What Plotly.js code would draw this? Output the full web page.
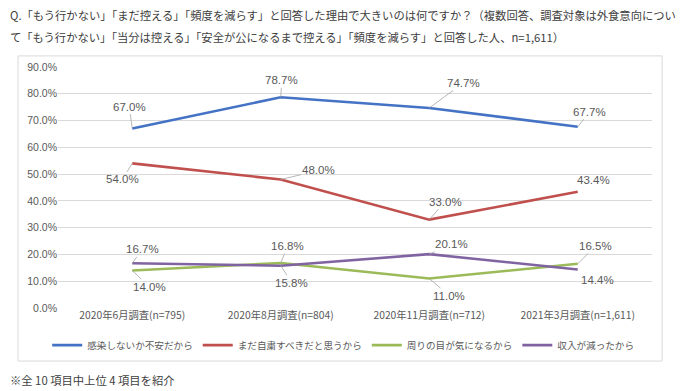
<!DOCTYPE html>
<html>
<head>
<meta charset="utf-8">
<script src="https://cdn.plot.ly/plotly-3.0.1.min.js"></script>
<style>html,body{margin:0;padding:0;background:#fff;}#chart{width:700px;height:391px;}</style>
</head>
<body>
<div id="chart"></div>
<script>
const categories = ["2020年6月調査(n=795)", "2020年8月調査(n=804)", "2020年11月調査(n=712)", "2021年3月調査(n=1,611)"];
const seriesNames = ["感染しないか不安だから", "まだ自粛すべきだと思うから", "周りの目が気になるから", "収入が減ったから"];
const anxiety = [67.0, 78.7, 74.7, 67.7];
const selfRestraint = [54.0, 48.0, 33.0, 43.4];
const othersEyes = [14.0, 16.8, 11.0, 16.5];
const incomeDown = [16.7, 15.8, 20.1, 14.4];
const yTicks = [0, 10, 20, 30, 40, 50, 60, 70, 80, 90];

const colors = ["#4472C4", "#C0504D", "#9BBB59", "#8064A2"];
const allSeries = [anxiety, selfRestraint, othersEyes, incomeDown];
// label offsets in pixels [ax, ay, showLeader]
const offsets = [
  [[-3, -22, true], [1, -17, true], [34, -25, true], [12, -15, true]],
  [[-10, 16, true], [38, -9, true], [16, -18, true], [16, -12, false]],
  [[17, 16, true], [7, -17, true], [20, 17, true], [18, -18, true]],
  [[10, -14, true], [11, 17, true], [22, -10, true], [20, 11, false]]
];

const traces = allSeries.map((vals, i) => ({
  type: "scatter", mode: "lines", x: categories, y: vals, name: seriesNames[i],
  line: {color: colors[i], width: 2.6}, hoverinfo: "skip"
}));

const annotations = [];
allSeries.forEach((vals, i) => {
  vals.forEach((v, j) => {
    const o = offsets[i][j];
    annotations.push({
      x: categories[j], y: v, xref: "x", yref: "y",
      text: v.toFixed(1) + "%", showarrow: true, arrowhead: 0, arrowwidth: 0.8,
      arrowcolor: o[2] ? "#a6a6a6" : "rgba(0,0,0,0)", standoff: 0, startstandoff: 0,
      ax: o[0], ay: o[1],
      font: {family: "Liberation Sans, Arial, sans-serif", size: 11.5, color: "#595959"}
    });
  });
});

const textFont = {family: "Noto Sans CJK JP", size: 11.3, color: "#404040"};
annotations.push({
  xref: "paper", yref: "paper", x: -0.003, y: 1.216, xanchor: "left", yanchor: "middle", showarrow: false,
  text: "Q.「もう行かない」「まだ控える」「頻度を減らす」と回答した理由で大きいのは何ですか？（複数回答、調査対象は外食意向につい",
  font: textFont
});
annotations.push({
  xref: "paper", yref: "paper", x: -0.003, y: 1.124, xanchor: "left", yanchor: "middle", showarrow: false,
  text: "て「もう行かない」「当分は控える」「安全が公になるまで控える」「頻度を減らす」と回答した人、n=1,611）",
  font: textFont
});
annotations.push({
  xref: "paper", yref: "paper", x: -0.003, y: -0.299, xanchor: "left", yanchor: "middle", showarrow: false,
  text: "※全 10 項目中上位 4 項目を紹介",
  font: textFont
});

const layout = {
  width: 700, height: 391,
  margin: {l: 10, r: 10, t: 67, b: 83},
  paper_bgcolor: "#fff", plot_bgcolor: "#fff",
  showlegend: true,
  legend: {orientation: "h", x: 0.49, xanchor: "center", y: -0.154, yanchor: "middle",
    font: {family: "Noto Sans CJK JP", size: 9.6, color: "#595959"}, itemwidth: 30, tracegroupgap: 0},
  xaxis: {type: "category", range: [-0.5, 3.5], domain: [0.0706, 0.9441],
    showgrid: false, showline: false, zeroline: false, ticks: "",
    tickfont: {family: "Noto Sans CJK JP", size: 10.3, color: "#595959"}, fixedrange: true},
  yaxis: {range: [0, 90], tickvals: yTicks, ticktext: yTicks.map(t => t.toFixed(1) + "%"),
    showgrid: true, gridcolor: "#d9d9d9", gridwidth: 1, zeroline: false, showline: false, ticks: "",
    tickfont: {family: "Liberation Sans, Arial, sans-serif", size: 10.5, color: "#595959"}, fixedrange: true},
  shapes: [{type: "rect", xref: "paper", yref: "paper", x0: 0.0118, x1: 0.959, y0: -0.22, y1: 1.046,
    line: {color: "#d9d9d9", width: 1}, fillcolor: "rgba(0,0,0,0)", layer: "below"}],
  annotations: annotations
};

Plotly.newPlot("chart", traces, layout, {staticPlot: true, displayModeBar: false});
</script>
</body>
</html>
